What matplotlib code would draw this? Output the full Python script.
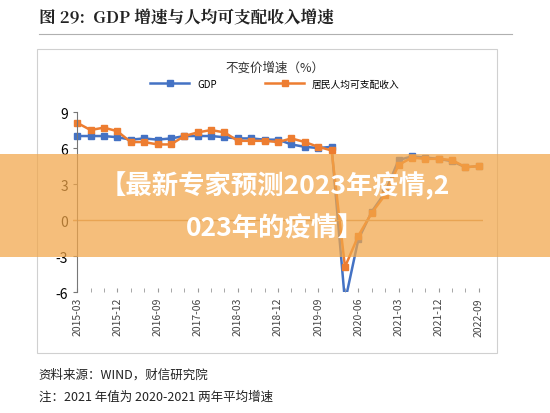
import matplotlib
matplotlib.use("Agg")
import matplotlib.pyplot as plt
from matplotlib.patches import Rectangle

plt.rcParams['font.family'] = ['Noto Sans CJK SC', 'DejaVu Sans']

quarters = [f"{y}-{m:02d}" for y in range(2015, 2023) for m in (3, 6, 9, 12)][:31]
gdp = [7.0, 7.0, 7.0, 6.9, 6.7, 6.8, 6.7, 6.8, 7.0, 7.0, 7.0, 6.9,
       6.8, 6.8, 6.7, 6.7, 6.3, 6.1, 6.0, 6.1, -6.8, -1.6, 0.7, 2.3,
       5.0, 5.3, 5.2, 5.1, 4.9, 4.4, 4.5]
income = [8.1, 7.5, 7.7, 7.4, 6.5, 6.5, 6.3, 6.3, 7.0, 7.3, 7.5, 7.3,
          6.6, 6.6, 6.6, 6.5, 6.8, 6.5, 6.1, 5.8, -3.9, -1.3, 0.6, 2.1,
          4.6, 5.2, 5.1, 5.1, 5.0, 4.4, 4.5]
yticks = [-6, -3, 0, 3, 6, 9]

fig = plt.figure(figsize=(5.5, 4.14), dpi=100)
fig.patch.set_facecolor('white')
fig.text(0.07, 0.955, "图 29:  GDP 增速与人均可支配收入增速", fontsize=12, fontweight='bold',
         color='#222222', va='center', family=['Noto Serif CJK SC', 'Noto Sans CJK SC', 'DejaVu Sans'])
fig.add_artist(plt.Line2D([0.07, 0.93], [0.915, 0.915], color='#b0b0b0', lw=0.8))
fig.add_artist(Rectangle((0.067, 0.145), 0.836, 0.735, fill=False, ec='#d0d0d0', lw=0.8))

ax = fig.add_axes([0.133, 0.292, 0.745, 0.435])
x = list(range(len(quarters)))
ax.plot(x, gdp, color='#4472c4', lw=1.8, marker='s', ms=4, label='GDP')
ax.plot(x, income, color='#ed7d31', lw=1.8, marker='s', ms=4, label='居民人均可支配收入')
ax.set_ylim(-6, 9)
ax.set_xlim(-0.3, 30.3)
ax.set_yticks(yticks)
ax.set_yticklabels([str(v) for v in yticks], fontsize=7.5)
for t, v in zip(ax.get_yticklabels(), yticks):
    t.set_color('red' if v < 0 else '#444444')
ax.set_xticks(x[::3])
ax.set_xticklabels(quarters[::3], rotation=90, fontsize=7.5, color='#444444')
ax.set_xticks(x, minor=True)
for s in ['top', 'right', 'bottom']:
    ax.spines[s].set_visible(False)
ax.spines['left'].set_color('#777777')
ax.spines['left'].set_position(('data', 0))
ax.axhline(0, color='#d0a070', lw=1)
ax.tick_params(axis='x', which='both', length=3, color='#999999', direction='in')
ax.tick_params(axis='y', length=3, color='#777777')
fig.text(0.5, 0.835, "不变价增速（%）", fontsize=9, ha='center', va='center', color='#333333')
fig.legend(loc='center', bbox_to_anchor=(0.5, 0.795), ncol=2, frameon=False, fontsize=7,
           handlelength=4, columnspacing=5)

fig.add_artist(Rectangle((0, 0.378), 1, 0.248, color='#f2a648', alpha=0.72, lw=0))
fig.text(0.5, 0.55, "【最新专家预测2023年疫情,2", fontsize=19, fontweight='bold', color='white',
         ha='center', va='center')
fig.text(0.5, 0.448, "023年的疫情】", fontsize=19, fontweight='bold', color='white',
         ha='center', va='center')

fig.text(0.07, 0.095, "资料来源：WIND，财信研究院", fontsize=9, style='italic', color='#222222', va='center')
fig.text(0.07, 0.04, "注：2021 年值为 2020-2021 两年平均增速", fontsize=9, style='italic', color='#222222', va='center')

fig.savefig("out.png", dpi=100)
